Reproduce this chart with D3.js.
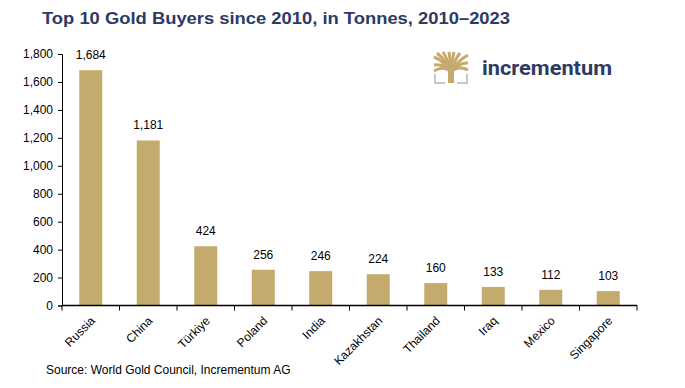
<!DOCTYPE html>
<html>
<head>
<meta charset="utf-8">
<script src="https://cdn.jsdelivr.net/npm/d3@7"></script>
<style>
body { margin:0; background:#fff; }
svg text { font-family: "Liberation Sans", Arial, sans-serif; }
</style>
</head>
<body>
<div id="canvas"></div>
<script>
// data
var countries = ['Russia','China','Türkiye','Poland','India','Kazakhstan','Thailand','Iraq','Mexico','Singapore'];
var tonnes = [1684, 1181, 424, 256, 246, 224, 160, 133, 112, 103];
var yTicks = [0,200,400,600,800,1000,1200,1400,1600,1800];

var W = 685, H = 388;
var svg = d3.select('#canvas').append('svg')
    .attr('width', W).attr('height', H);

var gold = '#c4aa6c', navy = '#2d3a64';

// title
svg.append('text')
    .attr('x', 42).attr('y', 24)
    .attr('font-size', 17).attr('font-weight', 'bold')
    .attr('fill', navy)
    .attr('textLength', 468).attr('lengthAdjust', 'spacingAndGlyphs')
    .text('Top 10 Gold Buyers since 2010, in Tonnes, 2010\u20132023');

var x = d3.scaleBand().domain(countries).range([62, 637]).paddingInner(0.6).paddingOuter(0.3);
var y = d3.scaleLinear().domain([0, 1800]).range([305.5, 54]);

// bars
svg.selectAll('.bar').data(tonnes).enter()
    .append('rect').attr('class','bar')
    .attr('x', function(d,i){ return x(countries[i]); })
    .attr('y', function(d){ return y(d); })
    .attr('width', x.bandwidth())
    .attr('height', function(d){ return y(0) - y(d); })
    .attr('fill', gold);

// value labels
svg.selectAll('.val').data(tonnes).enter()
    .append('text').attr('class','val')
    .attr('x', function(d,i){ return x(countries[i]) + x.bandwidth()/2; })
    .attr('y', function(d){ return y(d) - 11; })
    .attr('text-anchor','middle')
    .attr('font-size', 12)
    .attr('fill', '#000')
    .text(function(d){ return d3.format(',')(d); });

// y axis
var yAxis = svg.append('g')
    .attr('transform','translate(62,0)')
    .call(d3.axisLeft(y).tickValues(yTicks).tickSize(4).tickPadding(5).tickFormat(d3.format(',')));
yAxis.select('.domain').attr('stroke','#000');
yAxis.selectAll('text').attr('font-size', 12).attr('fill','#000').style('font-family','"Liberation Sans", Arial, sans-serif');

// x axis line with ticks at category boundaries
var bounds = d3.range(countries.length + 1).map(function(i){ return 62 + i * x.step(); });
svg.append('line')
    .attr('x1', 62).attr('x2', 637)
    .attr('y1', y(0)).attr('y2', y(0))
    .attr('stroke', '#000').attr('stroke-width', 1.3);
svg.selectAll('.xtick').data(bounds).enter()
    .append('line').attr('class','xtick')
    .attr('x1', function(d){ return d; }).attr('x2', function(d){ return d; })
    .attr('y1', y(0)).attr('y2', y(0) + 5)
    .attr('stroke', '#000');

// x labels
svg.selectAll('.xlab').data(countries).enter()
    .append('text').attr('class','xlab')
    .attr('transform', function(d){
        return 'translate(' + (x(d) + x.bandwidth()/2 + 5) + ',' + (y(0) + 16) + ') rotate(-45)';
    })
    .attr('text-anchor','end')
    .attr('font-size', 12)
    .attr('fill','#000')
    .text(function(d){ return d; });

// source
svg.append('text')
    .attr('x', 46).attr('y', 374)
    .attr('font-size', 12).attr('fill', '#000')
    .text('Source: World Gold Council, Incrementum AG');

// logo
var logo = svg.append('g').attr('transform','translate(434,52)');
logo.append('rect').attr('x', 14).attr('y', 14).attr('width', 6).attr('height', 17).attr('fill', gold);
var branches = [[-17,-2],[-17,4],[-14,-14],[-8,-15],[-2,-15],[3,-15],[9,-14],[17,-12],[17,-4],[17,3],[-17,-10]];
branches.forEach(function(b){
    logo.append('path')
        .attr('d', 'M17,20 Q' + (17 + b[0]*0.4) + ',' + (12 + b[1]*0.3) + ' ' + (17 + b[0]) + ',' + (15 + b[1]))
        .attr('stroke', gold).attr('stroke-width', 3).attr('fill','none');
});
logo.append('path').attr('d','M1,22 V31 H11').attr('stroke','#c8c8c8').attr('stroke-width',2).attr('fill','none');
logo.append('path').attr('d','M33,22 V31 H23').attr('stroke','#c8c8c8').attr('stroke-width',2).attr('fill','none');
svg.append('text')
    .attr('x', 482).attr('y', 75)
    .attr('font-size', 21).attr('font-weight', 'bold')
    .attr('fill', navy)
    .attr('textLength', 130).attr('lengthAdjust', 'spacingAndGlyphs')
    .style('font-family','Roboto, "Liberation Sans", sans-serif')
    .text('incrementum');
</script>
</body>
</html>
